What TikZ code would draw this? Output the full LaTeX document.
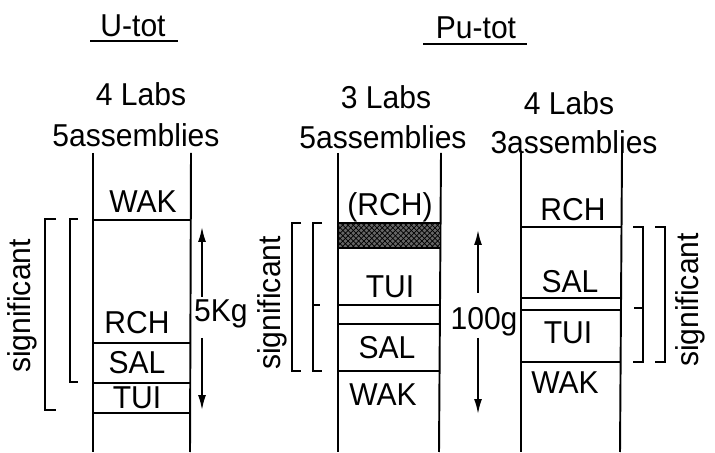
\documentclass[tikz,border=0pt]{standalone}
\usepackage{fontspec}
\setmainfont[FakeStretch=0.95]{Liberation Sans}
\usetikzlibrary{arrows.meta,patterns}

\begin{document}
\begin{tikzpicture}[x=1cm,y=1cm,
  txt/.style={inner sep=1pt,font=\fontsize{18}{21}\selectfont},
  wall/.style={line width=1.1pt},
  brk/.style={line width=1pt},
  dimarrow/.style={line width=1pt,-{Latex[length=3mm,width=1.6mm]}}]
\path[use as bounding box] (0,0) rectangle (14.30,9.04);
% headings
\node[txt] (utot) at (2.66,8.52) {U-tot};
\draw[line width=1.2pt] (1.80,8.22) -- (3.56,8.22);
\node[txt] (putot) at (9.52,8.48) {Pu-tot};
\draw[line width=1.2pt] (8.46,8.16) -- (10.54,8.16);
\node[txt] (labsA) at (2.82,7.16) {4 Labs};
\node[txt] (asmA) at (2.72,6.34) {5assemblies};
\node[txt] (labsB) at (7.72,7.10) {3 Labs};
\node[txt] (asmB) at (7.66,6.30) {5assemblies};
\node[txt] (labsC) at (11.38,6.98) {4 Labs};
\node[txt] (asmC) at (11.48,6.20) {3assemblies};
% U-tot column
\draw[wall] (1.86,5.98) -- (1.86,0);
\draw[wall] (3.82,5.98) -- (3.80,0);
\draw[wall] (1.86,4.64) -- (3.82,4.64);
\draw[wall] (1.86,2.18) -- (3.81,2.18);
\draw[wall] (1.86,1.38) -- (3.81,1.38);
\draw[wall] (1.86,0.78) -- (3.80,0.78);
\node[txt] (wakA) at (2.86,5.00) {WAK};
\node[txt] (rchA) at (2.74,2.58) {RCH};
\node[txt] (salA) at (2.74,1.78) {SAL};
\node[txt] (tuiA) at (2.74,1.08) {TUI};
\draw[brk] (1.12,4.66) -- (0.90,4.66) -- (0.90,0.84) -- (1.12,0.84);
\draw[brk] (1.56,4.66) -- (1.40,4.66) -- (1.40,1.40) -- (1.56,1.40);
\node[txt,rotate=90] (sigA) at (0.44,2.92) {significant};
\node[txt,anchor=west] (kg) at (3.84,2.76) {5Kg};
\coordinate (kgup) at (4.04,3.10);
\coordinate (kgtop) at (4.04,4.50);
\coordinate (kgdown) at (4.04,2.28);
\coordinate (kgbot) at (4.04,0.84);
\draw[dimarrow] (kgup) -- (kgtop);
\draw[dimarrow] (kgdown) -- (kgbot);
% Pu-tot column, 3 labs
\draw[wall] (6.76,5.98) -- (6.76,0);
\draw[wall] (8.82,5.98) -- (8.78,0);
\draw[wall,fill=black!60,postaction={pattern=crosshatch,pattern color=black}] (6.76,4.58) rectangle (8.81,4.08);
\draw[wall] (6.76,2.94) -- (8.80,2.94);
\draw[wall] (6.76,2.56) -- (8.80,2.56);
\draw[wall] (6.76,1.62) -- (8.79,1.62);
\node[txt] (rchB) at (7.80,4.90) {(RCH)};
\node[txt] (tuiB) at (7.80,3.30) {TUI};
\node[txt] (salB) at (7.74,2.08) {SAL};
\node[txt] (wakB) at (7.66,1.14) {WAK};
\draw[brk] (6.02,4.58) -- (5.84,4.58) -- (5.84,1.62) -- (6.02,1.62);
\draw[brk] (6.44,4.58) -- (6.26,4.58) -- (6.26,1.62) -- (6.44,1.62);
\draw[brk] (6.26,2.94) -- (6.40,2.94);
\node[txt,rotate=90] (sigB) at (5.44,2.98) {significant};
\node[txt] (gr) at (9.68,2.60) {100g};
\coordinate (grup) at (9.56,3.18);
\coordinate (grtop) at (9.56,4.44);
\coordinate (grdown) at (9.56,2.28);
\coordinate (grbot) at (9.56,0.76);
\draw[dimarrow] (grup) -- (grtop);
\draw[dimarrow] (grdown) -- (grbot);
% Pu-tot column, 4 labs
\draw[wall] (10.42,5.98) -- (10.42,0);
\draw[wall] (12.44,5.98) -- (12.40,0);
\draw[wall] (10.42,4.50) -- (12.44,4.50);
\draw[wall] (10.42,3.08) -- (12.43,3.08);
\draw[wall] (10.42,2.84) -- (12.43,2.84);
\draw[wall] (10.42,1.80) -- (12.42,1.80);
\node[txt] (rchC) at (11.46,4.84) {RCH};
\node[txt] (salC) at (11.40,3.40) {SAL};
\node[txt] (tuiC) at (11.36,2.38) {TUI};
\node[txt] (wakC) at (11.30,1.38) {WAK};
\draw[brk] (12.66,4.50) -- (12.86,4.50) -- (12.86,1.80) -- (12.66,1.80);
\draw[brk] (12.68,2.88) -- (12.86,2.88);
\draw[brk] (13.10,4.50) -- (13.30,4.50) -- (13.30,1.80) -- (13.10,1.80);
\node[txt,rotate=90] (sigC) at (13.80,3.04) {significant};
\end{tikzpicture}
\end{document}
